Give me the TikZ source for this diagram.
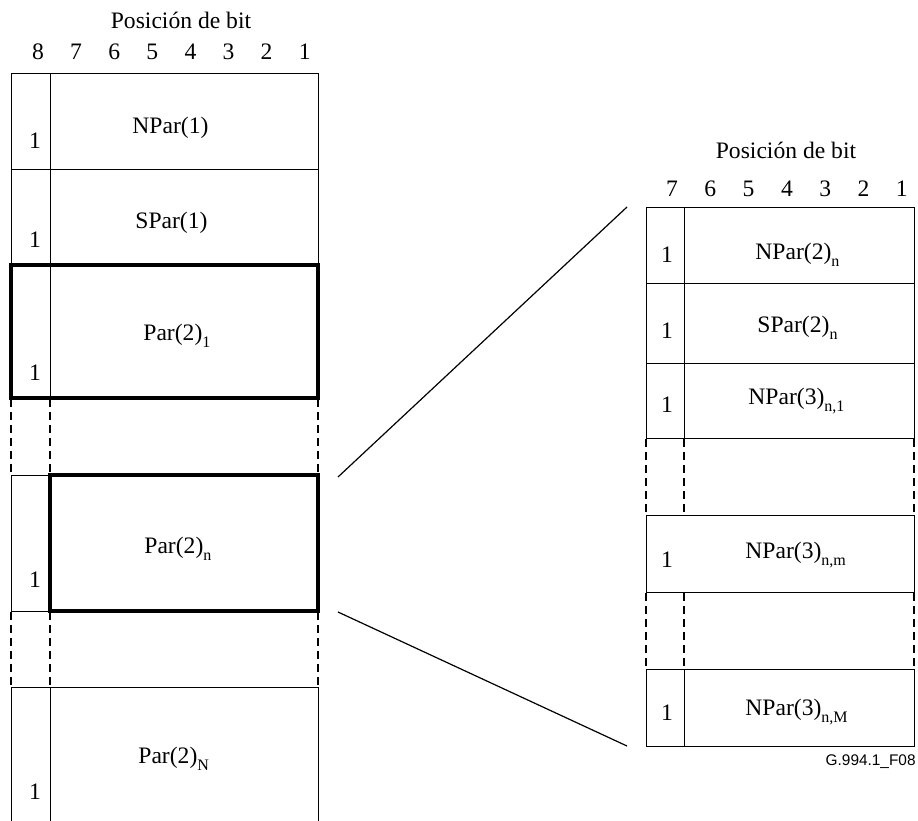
\documentclass[tikz,border=0pt]{standalone}
\usepackage{fontspec}
\setmainfont{Liberation Serif}
\newfontfamily\arialf{Liberation Sans}
\newcommand\sbs[1]{\raisebox{-3.5pt}{\fontsize{8}{9}\selectfont #1}}
\begin{document}
\begin{tikzpicture}[x=0.5pt,y=-0.5pt,
  txt/.style={font=\fontsize{11.8}{14}\selectfont, inner sep=0},
  lbl/.style={txt, anchor=base west},
  one/.style={txt, anchor=base},
  thinl/.style={draw, line width=0.5pt},
  thickl/.style={draw, line width=1.6pt},
  dashl/.style={draw, line width=0.8pt, dash pattern=on 4pt off 2.5pt},
  conn/.style={draw, line width=0.6pt}]
\useasboundingbox (0,0) rectangle (918,821);

% ---------- left header
\node[txt] (hl) at (181,20) {Posición de bit};
\foreach \d [count=\i from 0] in {8,7,6,5,4,3,2,1}
  \node[txt] (hl\d) at ({38+38.1*\i},52) {\d};

% ---------- left column
\draw[thinl] (11,73) rectangle (318,169);
\draw[thinl] (11,169) rectangle (318,265);
\draw[thinl] (50,73) -- (50,265);
\draw[thinl] (50,265) -- (50,398);
\draw[thickl] (11,265) rectangle (318,398);
\foreach \x in {11,50,318} \draw[dashl] (\x,399) -- (\x,475);
\draw[thinl] (11,475) rectangle (50,611);
\draw[thickl] (50,475) rectangle (318,611);
\foreach \x in {11,50,318} \draw[dashl] (\x,612) -- (\x,687);
\draw[thinl] (11,830) -- (11,687) -- (318,687) -- (318,830);
\draw[thinl] (50,687) -- (50,830);

\node[lbl] (npar1) at (132,133) {NPar(1)};
\node[one] (b1) at (35,148) {1};
\node[lbl] (spar1) at (135,228) {SPar(1)};
\node[one] (b2) at (35,247) {1};
\node[lbl] (par21) at (143,340) {Par(2)\sbs{1}};
\node[one] (b3) at (35,380) {1};
\node[lbl] (par2n) at (144,553) {Par(2)\sbs{n}};
\node[one] (b4) at (35,587) {1};
\node[lbl] (par2N) at (138,763) {Par(2)\sbs{N}};
\node[one] (b5) at (35,799) {1};

% ---------- right header
\node[txt] (hr) at (786,150) {Posición de bit};
\foreach \d [count=\i from 0] in {7,6,5,4,3,2,1}
  \node[txt] (hr\d) at ({672+38.3*\i},189) {\d};

% ---------- right column
\draw[thinl] (646,207) rectangle (914,283);
\draw[thinl] (646,283) rectangle (914,363);
\draw[thinl] (646,363) rectangle (914,438);
\draw[thinl] (684,207) -- (684,438);
\foreach \x in {646,684,914} \draw[dashl] (\x,439) -- (\x,512);
\draw[thinl] (646,515) rectangle (914,592);
\foreach \x in {646,684,914} \draw[dashl] (\x,593) -- (\x,666);
\draw[thinl] (646,669) rectangle (914,746);
\draw[thinl] (684,669) -- (684,746);

\node[lbl] (npar2) at (755,259) {NPar(2)\sbs{n}};
\node[one] (c1) at (667,262) {1};
\node[lbl] (spar2) at (757,332) {SPar(2)\sbs{n}};
\node[one] (c2) at (667,338) {1};
\node[lbl] (npar31) at (748,404) {NPar(3)\sbs{n,1}};
\node[one] (c3) at (667,412) {1};
\node[lbl] (npar3m) at (745,558) {NPar(3)\sbs{n,m}};
\node[one] (c4) at (667,567) {1};
\node[lbl] (npar3M) at (745,715) {NPar(3)\sbs{n,M}};
\node[one] (c5) at (667,720) {1};

% ---------- zoom connectors
\coordinate (la) at (338,477);
\coordinate (lb) at (338,612);
\coordinate (ra) at (627,207);
\coordinate (rb) at (627,746);
\draw[conn] (la) -- (ra);
\draw[conn] (lb) -- (rb);

\node[inner sep=0, anchor=base east, font=\arialf\fontsize{7.7}{9}\selectfont] (fig) at (916,765) {G.994.1\_F08};
\end{tikzpicture}
\end{document}
